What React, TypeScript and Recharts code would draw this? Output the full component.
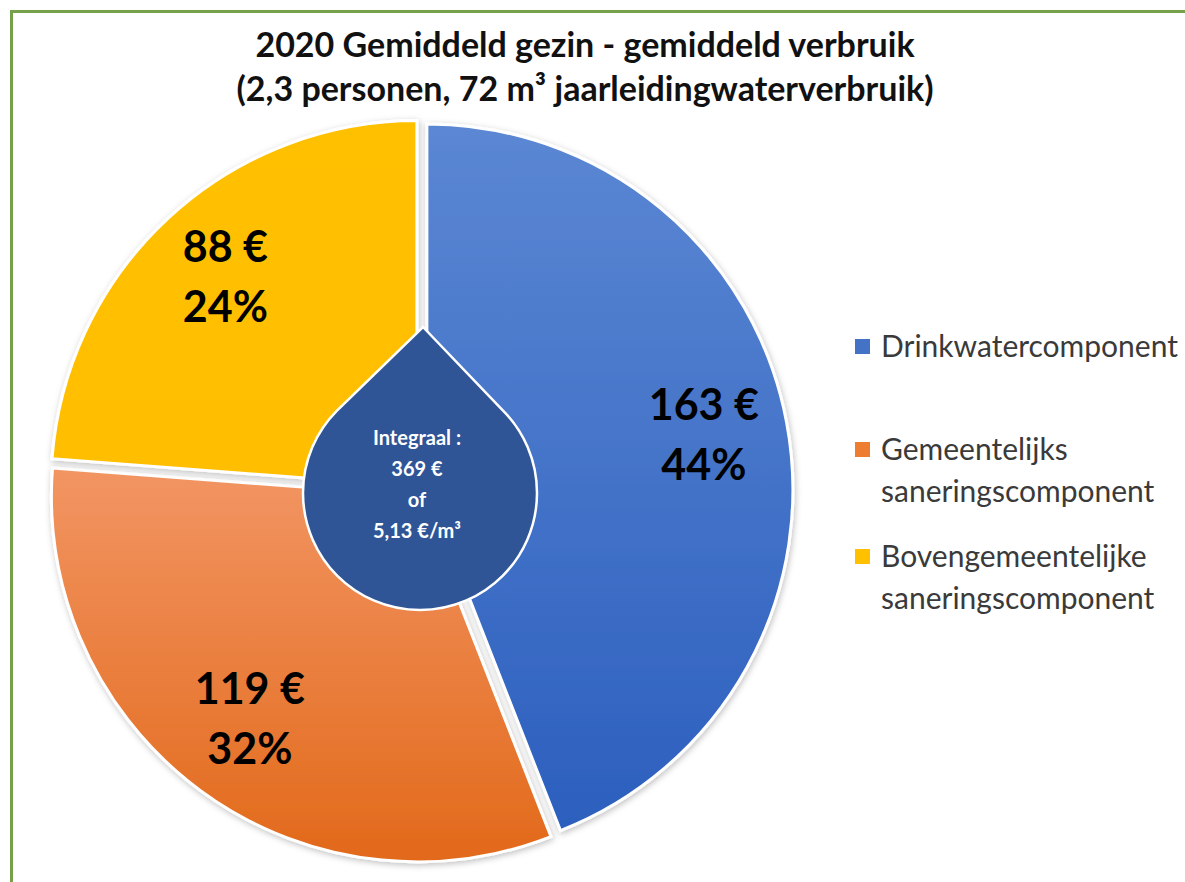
import React from "react";
import { PieChart, Pie, Cell, Sector, Legend } from "recharts";

const categories = [
  "Drinkwatercomponent",
  "Gemeentelijks saneringscomponent",
  "Bovengemeentelijke saneringscomponent",
];
const amounts = [163, 119, 88];
const gradientIds = ["gradBlue", "gradOrange", "gradYellow"];
const legendColors = ["#4472c4", "#ed7d31", "#ffc000"];

const titleLines = [
  "2020 Gemiddeld gezin - gemiddeld verbruik",
  "(2,3 personen, 72 m³ jaarleidingwaterverbruik)",
];
const dropLines = ["Integraal :", "369 €", "of", "5,13 €/m³"];

const data = categories.map((name, i) => ({ name, value: amounts[i] }));

const W = 1185;
const H = 882;
const CX = 416;
const CY = 486;
const R = 366;
const EXPLODE = 6;
const RAD = Math.PI / 180;
const FONT = "Lato, 'Open Sans', sans-serif";

function ExplodedSector(props: any) {
  const { cx, cy, midAngle } = props;
  const dx = EXPLODE * Math.cos(-midAngle * RAD);
  const dy = EXPLODE * Math.sin(-midAngle * RAD);
  return (
    <Sector
      {...props}
      cx={cx + dx}
      cy={cy + dy}
      stroke="#ffffff"
      strokeWidth={3}
      filter="url(#sliceShadow)"
    />
  );
}

function renderLabel(props: any) {
  const { cx, cy, midAngle, outerRadius, value, percent } = props;
  const r = outerRadius * 0.77 + EXPLODE;
  const x = cx + r * Math.cos(-midAngle * RAD);
  const y = cy + r * Math.sin(-midAngle * RAD);
  return (
    <text
      x={x}
      y={y}
      textAnchor="middle"
      fontFamily={FONT}
      fontWeight={700}
      fontSize={43}
      fill="#000000"
    >
      <tspan x={x} y={y - 18}>{`${value} €`}</tspan>
      <tspan x={x} y={y + 42}>{`${Math.round(percent * 100)}%`}</tspan>
    </text>
  );
}

const legendGaps = [0, 61, 23];

function renderLegend() {
  return (
    <div style={{ fontFamily: FONT, fontSize: 30, lineHeight: "42px", color: "#3a3a3a" }}>
      {categories.map((name, i) => (
        <div
          key={name}
          style={{ display: "flex", alignItems: "flex-start", marginTop: legendGaps[i] }}
        >
          <span
            style={{
              width: 15,
              height: 15,
              marginTop: 15,
              marginRight: 11,
              flex: "0 0 auto",
              background: legendColors[i],
            }}
          />
          <span style={{ width: 300, whiteSpace: "normal" }}>{name}</span>
        </div>
      ))}
    </div>
  );
}

function Drop() {
  const tipX = CX + 7;
  const tipY = CY - 159;
  const ccx = CX + 4;
  const ccy = CY + 7;
  const r = 117;
  const d = Math.hypot(tipX - ccx, tipY - ccy);
  const phi = Math.acos(r / d);
  const rx = ccx + r * Math.sin(phi);
  const lx = ccx - r * Math.sin(phi);
  const ty = ccy - r * Math.cos(phi);
  const path = `M ${tipX} ${tipY} L ${rx} ${ty} A ${r} ${r} 0 1 1 ${lx} ${ty} Z`;
  return (
    <svg
      width={W}
      height={H}
      style={{ position: "absolute", left: 0, top: 0, pointerEvents: "none" }}
    >
      <path d={path} fill="#2f5597" stroke="#ffffff" strokeWidth={2.5} />
      <text
        x={CX + 1}
        textAnchor="middle"
        fontFamily={FONT}
        fontWeight={700}
        fontSize={20}
        fill="#ffffff"
      >
        {dropLines.map((line, i) => (
          <tspan key={i} x={CX + 1} y={CY - 41 + i * 31}>
            {line}
          </tspan>
        ))}
      </text>
    </svg>
  );
}

export default function App() {
  return (
    <div
      style={{
        position: "absolute",
        left: 0,
        top: 0,
        width: W,
        height: H,
        background: "#ffffff",
        overflow: "hidden",
      }}
    >
      <div
        style={{
          position: "absolute",
          left: 10,
          top: 10,
          width: W,
          height: H,
          borderTop: "3px solid #77a04a",
          borderLeft: "3px solid #77a04a",
        }}
      />
      <PieChart width={W} height={H}>
        <defs>
          <linearGradient id="gradBlue" x1="0" y1="0" x2="0" y2="1">
            <stop offset="0%" stopColor="#5b87d3" />
            <stop offset="100%" stopColor="#2c5fbe" />
          </linearGradient>
          <linearGradient id="gradOrange" x1="0" y1="0" x2="0" y2="1">
            <stop offset="0%" stopColor="#f29563" />
            <stop offset="100%" stopColor="#e2691a" />
          </linearGradient>
          <linearGradient id="gradYellow" x1="0" y1="0" x2="0" y2="1">
            <stop offset="0%" stopColor="#ffc000" />
            <stop offset="100%" stopColor="#ffbf00" />
          </linearGradient>
          <filter id="sliceShadow" x="-10%" y="-10%" width="120%" height="120%">
            <feDropShadow dx="1" dy="2" stdDeviation="3" floodColor="#000" floodOpacity="0.25" />
          </filter>
        </defs>
        <Pie
          data={data}
          dataKey="value"
          nameKey="name"
          cx={CX}
          cy={CY}
          outerRadius={R}
          startAngle={90}
          endAngle={-270}
          isAnimationActive={false}
          label={renderLabel}
          labelLine={false}
          shape={ExplodedSector}
          stroke="#ffffff"
          strokeWidth={3}
        >
          {data.map((d, i) => (
            <Cell key={d.name} fill={`url(#${gradientIds[i]})`} />
          ))}
        </Pie>
        <Legend
          content={renderLegend}
          wrapperStyle={{ position: "absolute", left: 855, top: 324, width: 330, bottom: "auto" }}
        />
      </PieChart>
      <Drop />
      <div
        style={{
          position: "absolute",
          left: 0,
          top: 22,
          width: 1170,
          textAlign: "center",
          fontFamily: FONT,
          fontWeight: 700,
          fontSize: 34,
          lineHeight: "44px",
          color: "#111111",
        }}
      >
        {titleLines.map((t) => (
          <div key={t}>{t}</div>
        ))}
      </div>
    </div>
  );
}
